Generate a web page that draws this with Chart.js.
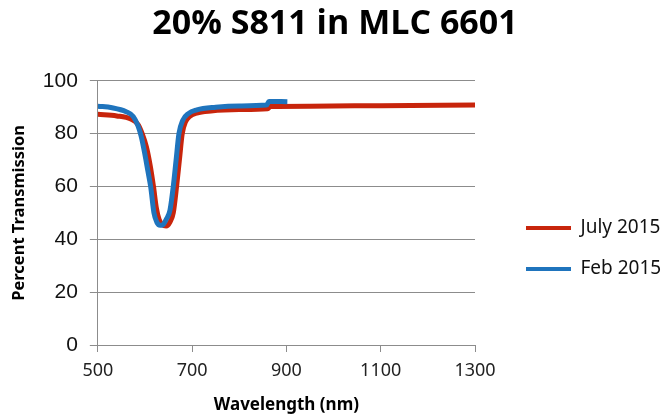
<!DOCTYPE html>
<html>
<head>
<meta charset="utf-8">
<script src="https://cdn.jsdelivr.net/npm/chart.js@4.4.1/dist/chart.umd.min.js"></script>
<style>
  html, body { margin: 0; padding: 0; background: #fff; }
</style>
</head>
<body>
<canvas id="chart" width="661" height="418"></canvas>
<script>
// July 2015 scan (red)
const julyWavelength = [500, 540, 570, 585, 594, 603, 611, 618, 624, 630, 637, 645, 653, 660, 667, 673, 679, 686, 695, 710, 740, 800, 860, 866, 950, 1100, 1300];
const julyTransmission = [87.3, 86.7, 85.5, 83.5, 80, 75, 68, 60, 52, 47.5, 45.5, 45, 46.5, 50, 60, 70, 80, 84.5, 86.5, 87.8, 88.6, 89.1, 89.4, 90.3, 90.4, 90.6, 90.8];

// Feb 2015 scan (blue)
const febWavelength = [500, 530, 560, 575, 585, 592, 600, 606, 612, 619, 625, 632, 638, 645, 653, 660, 666, 672, 680, 692, 710, 750, 800, 858, 863, 902];
const febTransmission = [90.4, 89.8, 88.3, 86.5, 83, 79, 72, 66, 60, 50, 46.5, 45.3, 45.5, 47.5, 51, 60, 70, 80, 85, 87.6, 89, 90, 90.5, 90.8, 92.2, 92.1];

const xTicks = [500, 700, 900, 1100, 1300];
const yTicks = [0, 20, 40, 60, 80, 100];

const toPoints = (xs, ys) => xs.map((x, i) => ({ x: x, y: ys[i] }));
const gridGray = '#8c8c8c';

// nudge the legend box to sit where the original one does
const legendOffset = {
    id: 'legendOffset',
    afterLayout(chart) {
        const l = chart.legend;
        const dx = 29, dy = 41;
        l.left += dx; l.right += dx;
        l.top += dy; l.bottom += dy;
    },
};

new Chart(document.getElementById('chart'), {
    type: 'line',
    data: {
        datasets: [
            {
                label: 'Feb 2015',
                data: toPoints(febWavelength, febTransmission),
                borderColor: '#1f74bd',
                backgroundColor: '#1f74bd',
                borderWidth: 5,
                pointRadius: 0,
                cubicInterpolationMode: 'monotone',
            },
            {
                label: 'July 2015',
                data: toPoints(julyWavelength, julyTransmission),
                borderColor: '#c8250c',
                backgroundColor: '#c8250c',
                borderWidth: 5,
                pointRadius: 0,
                cubicInterpolationMode: 'monotone',
            },
        ],
    },
    options: {
        responsive: false,
        animation: false,
        layout: { padding: { left: 9, top: 0, right: 0, bottom: 3 } },
        plugins: {
            title: {
                display: true,
                text: '20% S811 in MLC 6601',
                color: '#000',
                font: { family: 'Open Sans', weight: 'bold', size: 34 },
                padding: { top: 4, bottom: 36 },
            },
            legend: {
                position: 'right',
                labels: {
                    usePointStyle: true,
                    pointStyle: 'line',
                    pointStyleWidth: 45,
                    padding: 22,
                    color: '#111',
                    font: { family: 'Noto Sans', size: 19 },
                    sort: (a, b) => b.datasetIndex - a.datasetIndex,
                    generateLabels: (chart) =>
                        Chart.defaults.plugins.legend.labels.generateLabels(chart).map((item) => ({ ...item, lineWidth: 4 })),
                },
            },
            tooltip: { enabled: false },
        },
        scales: {
            x: {
                type: 'linear',
                min: 500,
                max: 1300,
                afterBuildTicks: (s) => { s.ticks = xTicks.map((v) => ({ value: v })); },
                afterFit: (s) => { s.paddingRight = 186; },
                ticks: {
                    color: '#222',
                    padding: 8,
                    font: { family: 'Noto Sans', size: 18 },
                    callback: (v) => String(v),
                },
                grid: { drawOnChartArea: false, color: gridGray, tickLength: 7 },
                border: { color: gridGray },
                title: {
                    display: true,
                    text: 'Wavelength (nm)',
                    color: '#000',
                    font: { family: 'Noto Sans', weight: 'bold', size: 17 },
                    padding: { top: 5, bottom: 0 },
                },
            },
            y: {
                min: 0,
                max: 100,
                afterBuildTicks: (s) => { s.ticks = yTicks.map((v) => ({ value: v })); },
                ticks: { color: '#111', padding: 12, font: { family: 'Liberation Sans', size: 21 } },
                grid: { color: gridGray, tickLength: 8 },
                border: { color: gridGray },
                title: {
                    display: true,
                    text: 'Percent Transmission',
                    color: '#000',
                    font: { family: 'Noto Sans', weight: 'bold', size: 16.5 },
                    padding: { top: 0, bottom: 2 },
                },
            },
        },
    },
    plugins: [legendOffset],
});
</script>
</body>
</html>
